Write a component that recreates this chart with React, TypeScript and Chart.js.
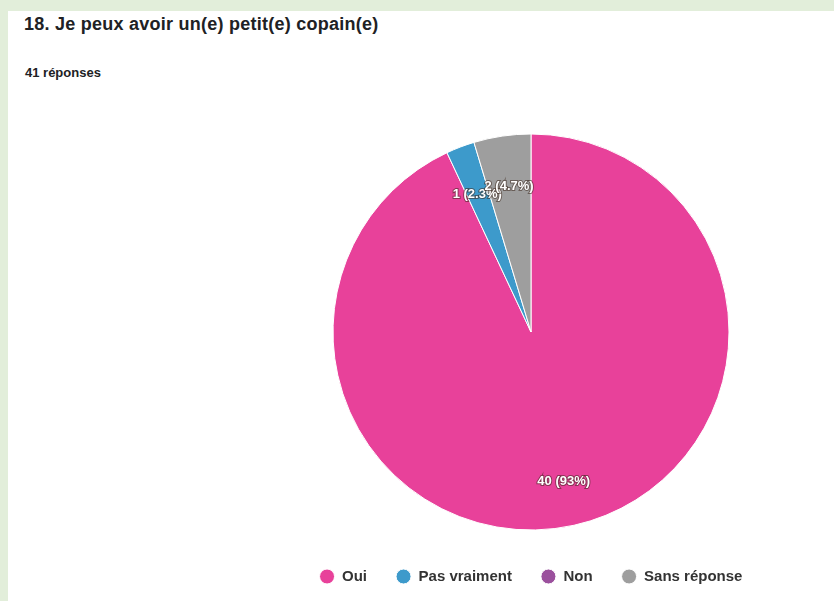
import React, { useEffect, useRef } from "react";
import { Chart, registerables } from "chart.js";

Chart.register(...registerables);

const title = "18. Je peux avoir un(e) petit(e) copain(e)";
const subtitle = "41 réponses";
const categories = ["Oui", "Pas vraiment", "Non", "Sans réponse"];
const counts = [40, 1, 0, 2];
const percentLabels = ["93%", "2.3%", "0%", "4.7%"];
const colors = ["#e8419a", "#3d9acb", "#9b509d", "#9e9e9e"];

const sliceLabelPlugin = {
  id: "sliceLabels",
  afterDatasetsDraw(chart: any) {
    const ctx = chart.ctx;
    const meta = chart.getDatasetMeta(0);
    ctx.save();
    ctx.font = "bold 13px 'Liberation Sans', Arial, sans-serif";
    ctx.textAlign = "center";
    ctx.textBaseline = "middle";
    meta.data.forEach((arc: any, i: number) => {
      const v = counts[i];
      if (!v) return;
      const p = arc.getProps(["x", "y", "startAngle", "endAngle", "outerRadius"], true);
      const mid = (p.startAngle + p.endAngle) / 2;
      const r = p.outerRadius * 0.76;
      const x = p.x + Math.cos(mid) * r;
      const y = p.y + Math.sin(mid) * r + 3;
      const text = `${v} (${percentLabels[i]})`;
      ctx.lineWidth = 2;
      ctx.strokeStyle = "rgba(60,40,30,0.55)";
      ctx.strokeText(text, x, y);
      ctx.fillStyle = "#ffffff";
      ctx.fillText(text, x, y);
    });
    ctx.restore();
  },
};

export default function App() {
  const canvasRef = useRef<HTMLCanvasElement | null>(null);

  useEffect(() => {
    if (!canvasRef.current) return;
    const chart = new Chart(canvasRef.current, {
      type: "pie",
      data: {
        labels: categories,
        datasets: [
          {
            data: counts,
            backgroundColor: colors,
            borderColor: "#ffffff",
            borderWidth: 1,
            radius: 198,
          },
        ],
      },
      options: {
        animation: false,
        responsive: false,
        maintainAspectRatio: false,
        layout: { padding: { bottom: 7 } },
        plugins: {
          tooltip: { enabled: false },
          legend: {
            position: "bottom",
            labels: {
              usePointStyle: true,
              pointStyle: "circle",
              pointStyleWidth: 15,
              boxHeight: 10.6,
              padding: 29,
              color: "#333333",
              font: { family: "'Liberation Sans', Arial, sans-serif", size: 15, weight: "bold" },
            },
          },
        },
      },
      plugins: [sliceLabelPlugin],
    });
    return () => chart.destroy();
  }, []);

  return (
    <div
      style={{
        position: "fixed",
        left: 0,
        top: 0,
        width: 834,
        height: 601,
        background: "rgb(226,238,218)",
        overflow: "hidden",
      }}
    >
      <div
        style={{
          position: "absolute",
          left: 8,
          top: 11,
          right: 0,
          bottom: 0,
          background: "#ffffff",
        }}
      />
      <div
        style={{
          position: "absolute",
          left: 24,
          top: 15,
          fontFamily: "'Liberation Sans', Arial, sans-serif",
          fontWeight: "bold",
          fontSize: 18,
          letterSpacing: "0.25px",
          lineHeight: 1,
          color: "#202124",
          whiteSpace: "nowrap",
        }}
      >
        {title}
      </div>
      <div
        style={{
          position: "absolute",
          left: 25,
          top: 66,
          fontFamily: "'Liberation Sans', Arial, sans-serif",
          fontWeight: "bold",
          fontSize: 13,
          lineHeight: 1,
          color: "#202124",
          whiteSpace: "nowrap",
        }}
      >
        {subtitle}
      </div>
      <canvas
        ref={canvasRef}
        width={606}
        height={477}
        style={{ position: "absolute", left: 228, top: 124, width: 606, height: 477 }}
      />
    </div>
  );
}
